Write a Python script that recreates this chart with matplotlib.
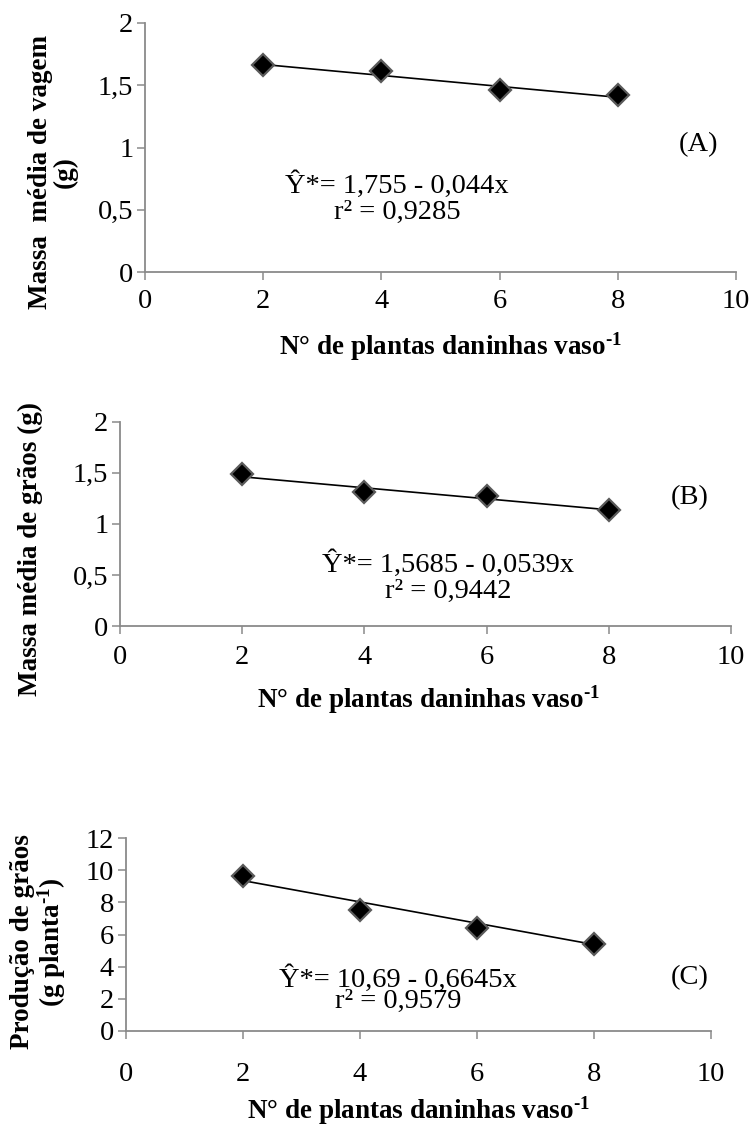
import matplotlib

matplotlib.use("Agg")
import matplotlib.pyplot as plt

plt.rcParams["font.family"] = ["Liberation Serif", "DejaVu Serif"]
plt.rcParams["mathtext.fontset"] = "custom"
plt.rcParams["mathtext.rm"] = "Liberation Serif:bold"
plt.rcParams["mathtext.it"] = "Liberation Serif:italic"
plt.rcParams["mathtext.bf"] = "Liberation Serif:bold"

# data
weeds = [2, 4, 6, 8]
pod_mass = [1.665, 1.612, 1.46, 1.425]
grain_mass = [1.485, 1.315, 1.275, 1.135]
grain_yield = [9.65, 7.5, 6.4, 5.4]

# fitted regressions (intercept, slope)
fit_a = (1.755, -0.044)
fit_b = (1.5685, -0.0539)
fit_c = (10.69, -0.6645)

xticks = [0, 2, 4, 6, 8, 10]
yticks_ab = [0, 0.5, 1, 1.5, 2]
yticks_ab_labels = ["0", "0,5", "1", "1,5", "2"]
yticks_c = [0, 2, 4, 6, 8, 10, 12]

eq_a = "Ŷ*= 1,755 - 0,044x\nr² = 0,9285"
eq_b = "Ŷ*= 1,5685 - 0,0539x\nr² = 0,9442"
eq_c = "Ŷ*= 10,69 - 0,6645x\nr² = 0,9579"

SUP = r"$^{\text{-}1}$"
XLABEL = "N° de plantas daninhas vaso" + SUP

TICK_FS = 20.5
LABEL_FS = 19.5

W, H = 753, 1126
fig = plt.figure(figsize=(W / 100, H / 100), dpi=100)
fig.patch.set_facecolor("white")


def px(x, y):
    return x / W, 1 - y / H


def panel(rect, y, fit, yticks, ylabels, ylim, ylabel, ylab_xy, xlab_y, pad):
    left, top, right, bottom = rect
    ax = fig.add_axes([left / W, 1 - bottom / H, (right - left) / W, (bottom - top) / H])
    ax.plot(weeds, y, linestyle="none", marker="D", markersize=11,
            markerfacecolor="black", markeredgecolor="#5a5a5a",
            markeredgewidth=1.6, zorder=3)
    x0, x1 = weeds[0], weeds[-1]
    ax.plot([x0, x1], [fit[0] + fit[1] * x0, fit[0] + fit[1] * x1],
            color="black", linewidth=1.2, zorder=2)
    ax.set_xlim(0, 10)
    ax.set_ylim(*ylim)
    ax.set_xticks(xticks)
    ax.set_yticks(yticks)
    if ylabels is not None:
        ax.set_yticklabels(ylabels)
    for side in ("top", "right"):
        ax.spines[side].set_visible(False)
    for side in ("left", "bottom"):
        ax.spines[side].set_color("#8a8a8a")
        ax.spines[side].set_linewidth(1.3)
    ax.tick_params(direction="out", length=5.5, width=1.1, color="#8a8a8a",
                   labelsize=TICK_FS)
    ax.tick_params(axis="x", pad=pad)
    ax.tick_params(axis="y", pad=3)
    ax.set_ylabel(ylabel, fontsize=LABEL_FS, fontweight="bold", linespacing=1.0)
    ax.yaxis.set_label_coords((ylab_xy[0] - left) / (right - left),
                              (bottom - ylab_xy[1]) / (bottom - top))
    ax.set_xlabel(XLABEL, fontsize=LABEL_FS, fontweight="bold")
    ax.xaxis.set_label_coords((xlab_y[0] - left) / (right - left),
                              (bottom - xlab_y[1]) / (bottom - top))
    return ax


panel((145, 23, 736, 272), pod_mass, fit_a, yticks_ab, yticks_ab_labels, (0, 2),
      "Massa  média de vagem\n(g)", (78, 172), (450, 330), 7)
panel((120, 421.7, 731, 626), grain_mass, fit_b, yticks_ab, yticks_ab_labels, (0, 2),
      "Massa média de grãos (g)", (43, 549), (428, 683), 8)
panel((126, 838.3, 711, 1030.7), grain_yield, fit_c, yticks_c, None, (0, 12),
      "Produção de grãos\n(g planta" + SUP + ")", (68, 942), (418, 1094), 17)

txt = dict(fontsize=TICK_FS, ha="center", va="center", multialignment="center")
fig.text(*px(397, 198), eq_a, linespacing=1.05, **txt)
fig.text(*px(448, 577), eq_b, linespacing=1.05, **txt)
fig.text(*px(398, 990), eq_c, linespacing=0.78, **txt)

fig.text(*px(698, 145), "(A)", **txt)
fig.text(*px(690, 498), "(B)", **txt)
fig.text(*px(690, 978), "(C)", **txt)

fig.savefig("out.png", dpi=100, facecolor="white")
